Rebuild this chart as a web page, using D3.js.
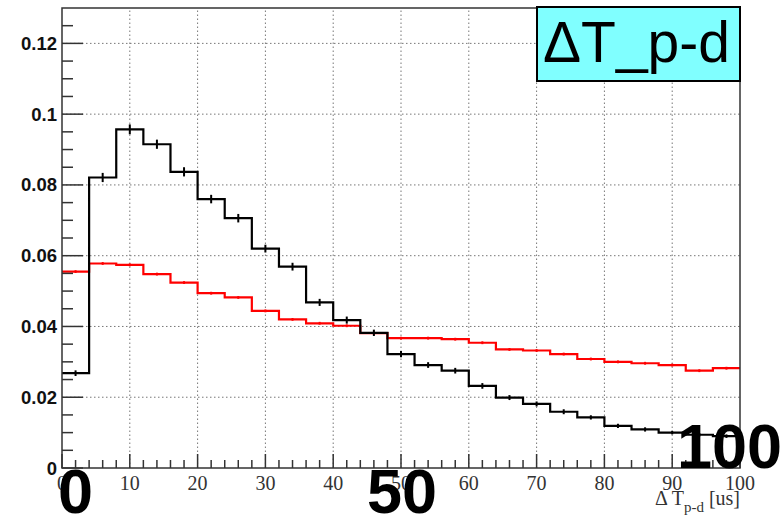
<!DOCTYPE html>
<html>
<head>
<meta charset="utf-8">
<script src="https://cdn.jsdelivr.net/npm/d3@7"></script>
<style>
  body { margin: 0; background: #fff; }
  svg { display: block; }
</style>
</head>
<body>
<svg width="783" height="520"></svg>
<script>
// histogram bins: 25 bins of 4 us from 0 to 100
var binEdges = d3.range(0, 101, 4);

// black histogram (normalised) and its errors
var blackValues = [0.0268, 0.0821, 0.0957, 0.0915, 0.0837, 0.0760, 0.0706, 0.0620, 0.0569, 0.0468,
                   0.0418, 0.0382, 0.0322, 0.0291, 0.0275, 0.0232, 0.0199, 0.0181, 0.0159, 0.0143,
                   0.0119, 0.0109, 0.0100, 0.0094, 0.0090];
var blackErrors = [0.0008, 0.0013, 0.0014, 0.0013, 0.0013, 0.0012, 0.0012, 0.0011, 0.0011, 0.0010,
                   0.0010, 0.0009, 0.0009, 0.0008, 0.0008, 0.0008, 0.0007, 0.0007, 0.0007, 0.0006,
                   0.0006, 0.0006, 0.0005, 0.0005, 0.0005];

// red histogram (normalised) and its errors
var redValues = [0.0555, 0.0578, 0.0574, 0.0548, 0.0524, 0.0494, 0.0482, 0.0444, 0.0420, 0.0409,
                 0.0402, 0.0381, 0.0367, 0.0367, 0.0364, 0.0354, 0.0335, 0.0332, 0.0322, 0.0308,
                 0.0300, 0.0296, 0.0291, 0.0275, 0.0282];
var redErrors = d3.range(25).map(() => 0.0004);

var xTicks = [0, 10, 20, 30, 40, 50, 60, 70, 80, 90, 100];
var yTicks = [0, 0.02, 0.04, 0.06, 0.08, 0.1, 0.12];
var yTickLabels = ["0", "0.02", "0.04", "0.06", "0.08", "0.1", "0.12"];
var bigLabels = ["0", "50", "100"];

var svg = d3.select("svg"),
    width = +svg.attr("width"),
    height = +svg.attr("height");

var margin = {left: 62, right: 43, top: 8, bottom: 52};

var x = d3.scaleLinear().domain([0, 100]).range([margin.left, width - margin.right]);
var y = d3.scaleLinear().domain([0, 0.13]).range([height - margin.bottom, margin.top]);

// grid
var grid = svg.append("g")
    .attr("stroke", "#777")
    .attr("stroke-width", 1)
    .attr("stroke-dasharray", "1.5,2.5");

grid.selectAll("line.gx")
    .data(xTicks.slice(1, -1))
    .join("line")
    .attr("x1", d => x(d)).attr("x2", d => x(d))
    .attr("y1", y(0)).attr("y2", y(0.13));

grid.selectAll("line.gy")
    .data(yTicks.slice(1))
    .join("line")
    .attr("class", "gy")
    .attr("x1", x(0)).attr("x2", x(100))
    .attr("y1", d => y(d)).attr("y2", d => y(d));

// step line path for a histogram
function stepPath(values) {
    var p = d3.path();
    values.forEach(function(v, i) {
        if (i === 0) p.moveTo(x(binEdges[0]), y(v));
        else p.lineTo(x(binEdges[i]), y(v));
        p.lineTo(x(binEdges[i + 1]), y(v));
    });
    return p.toString();
}

function drawHist(values, errors, color) {
    var g = svg.append("g");
    g.append("path")
        .attr("d", stepPath(values))
        .attr("fill", "none")
        .attr("stroke", color)
        .attr("stroke-width", 2.2);
    g.selectAll("line")
        .data(values)
        .join("line")
        .attr("x1", (d, i) => x(binEdges[i] + 2))
        .attr("x2", (d, i) => x(binEdges[i] + 2))
        .attr("y1", (d, i) => y(d - errors[i]))
        .attr("y2", (d, i) => y(d + errors[i]))
        .attr("stroke", color)
        .attr("stroke-width", 2);
}

drawHist(redValues, redErrors, "#ff0000");
drawHist(blackValues, blackErrors, "#000000");

// frame
svg.append("rect")
    .attr("x", x(0)).attr("y", y(0.13))
    .attr("width", x(100) - x(0))
    .attr("height", y(0) - y(0.13))
    .attr("fill", "none")
    .attr("stroke", "#333")
    .attr("stroke-width", 1.5);

// x ticks: major every 10, minor every 2
var xMinor = d3.range(0, 101, 2);
svg.append("g").selectAll("line")
    .data(xMinor)
    .join("line")
    .attr("x1", d => x(d)).attr("x2", d => x(d))
    .attr("y1", y(0))
    .attr("y2", d => y(0) - (d % 10 === 0 ? 14 : 8))
    .attr("stroke", "#333")
    .attr("stroke-width", 1.5);

// y ticks: major every 0.02, minor every 0.005
var yMinor = d3.range(0, 26).map(i => i * 0.005);
svg.append("g").selectAll("line")
    .data(yMinor)
    .join("line")
    .attr("x1", x(0))
    .attr("x2", (d, i) => x(0) + (i % 4 === 0 ? 21 : 11))
    .attr("y1", d => y(d)).attr("y2", d => y(d))
    .attr("stroke", "#333")
    .attr("stroke-width", 1.5);

// y labels
svg.append("g").selectAll("text")
    .data(yTicks)
    .join("text")
    .attr("x", x(0) - 5)
    .attr("y", d => y(d) + 6.5)
    .attr("text-anchor", "end")
    .attr("font-family", "'Liberation Sans', Arial, sans-serif")
    .attr("font-weight", "bold")
    .attr("font-size", "18.5px")
    .attr("fill", "#111")
    .text((d, i) => yTickLabels[i]);

// x labels
svg.append("g").selectAll("text")
    .data(xTicks)
    .join("text")
    .attr("x", d => x(d))
    .attr("y", y(0) + 22)
    .attr("text-anchor", "middle")
    .attr("font-family", "'Liberation Serif', 'Times New Roman', serif")
    .attr("font-size", "20px")
    .attr("fill", "#333")
    .text(d => d);

// x axis title
var title = svg.append("text")
    .attr("x", x(100))
    .attr("y", 505)
    .attr("text-anchor", "end")
    .attr("font-family", "'Liberation Serif', 'Times New Roman', serif")
    .attr("font-size", "20px")
    .attr("fill", "#333");
title.append("tspan").text("\u0394 T");
title.append("tspan").attr("font-size", "15px").attr("dy", 7).text("p-d");
title.append("tspan").attr("dy", -7).text(" [us]");

// title box
svg.append("rect")
    .attr("x", 537).attr("y", 7)
    .attr("width", x(100) - 537).attr("height", 74)
    .attr("fill", "#80ffff")
    .attr("stroke", "#000")
    .attr("stroke-width", 2);
svg.append("text")
    .attr("x", 543).attr("y", 62)
    .attr("font-family", "'Liberation Sans', Arial, sans-serif")
    .attr("font-size", "57px")
    .attr("fill", "#000")
    .text("\u0394T_p-d");

// big overlay labels
var bigPos = [
    {x: x(0) - 4, y: 513},
    {x: x(50) - 34, y: 513},
    {x: x(100) - 63, y: 468}
];
svg.append("g").selectAll("text")
    .data(bigLabels)
    .join("text")
    .attr("x", (d, i) => bigPos[i].x)
    .attr("y", (d, i) => bigPos[i].y)
    .attr("font-family", "'Liberation Sans', Arial, sans-serif")
    .attr("font-weight", "bold")
    .attr("font-size", "63px")
    .attr("fill", "#000")
    .text(d => d);
</script>
</body>
</html>
